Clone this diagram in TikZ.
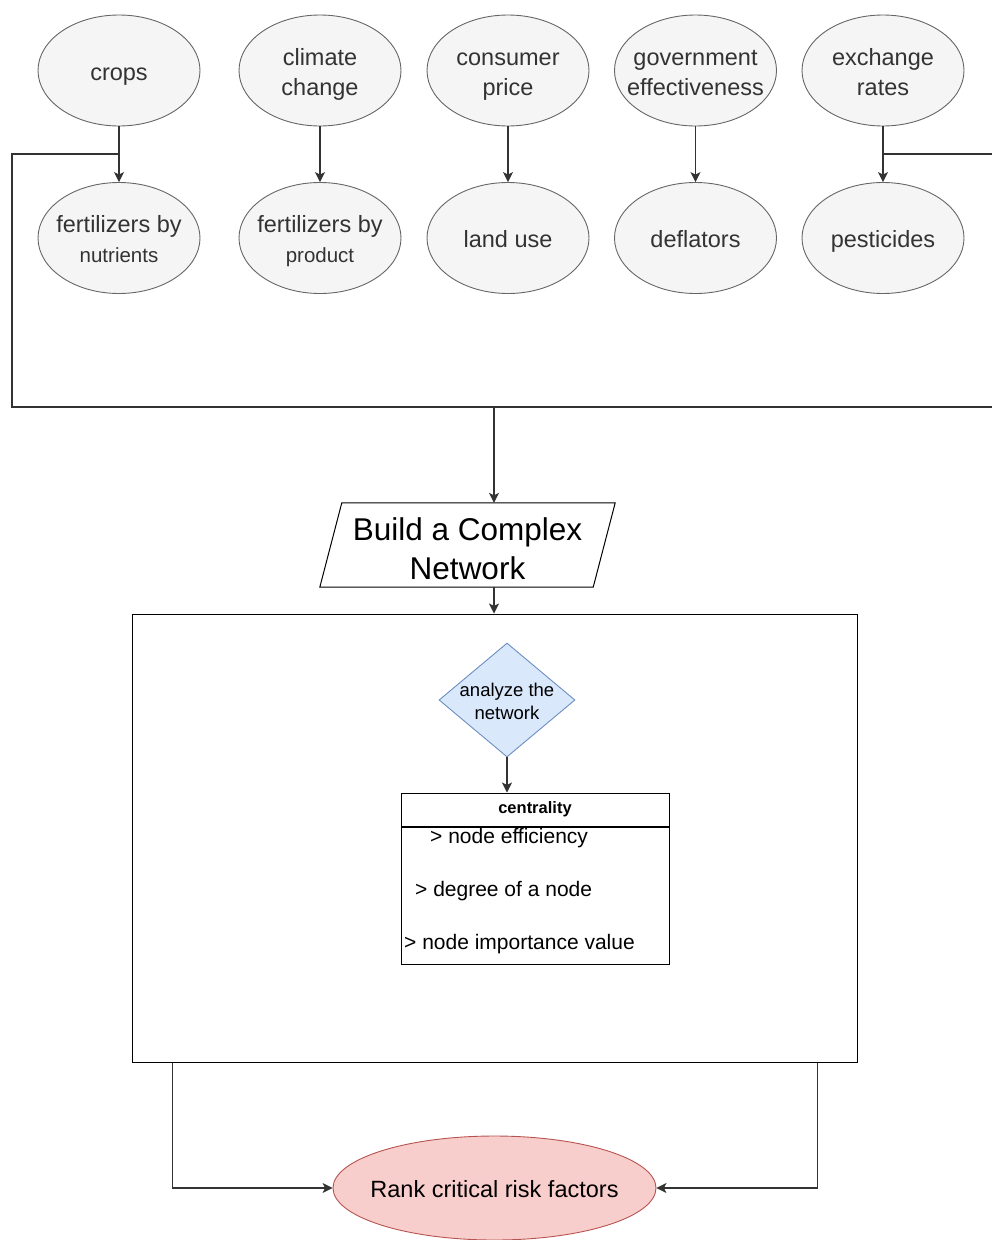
\documentclass[tikz,border=0pt]{standalone}
\usepackage{fontspec}
\setmainfont{Liberation Sans}
\usepackage{xcolor}
\usepackage{tikz}
\usetikzlibrary{arrows.meta,positioning,shapes.geometric}
\definecolor{factfill}{HTML}{F5F5F5}
\definecolor{factline}{HTML}{666666}
\definecolor{facttext}{HTML}{333333}
\definecolor{stepfill}{HTML}{DAE8FC}
\definecolor{stepline}{HTML}{6C8EBF}
\definecolor{rankfill}{HTML}{F8CECC}
\definecolor{rankline}{HTML}{B85450}
\tikzset{
  fact/.style={ellipse, draw=factline, line width=0.9pt, fill=factfill,
               text=facttext, inner sep=0pt,
               minimum width=162pt, minimum height=111pt,
               font=\fontsize{23.5}{30}\selectfont},
  wire/.style={line width=1.1pt, draw=black!80},
  flow/.style={-{Stealth[length=10pt,width=10pt,inset=2.5pt]}, line width=1.1pt,
               draw=black!80},
  item/.style={anchor=west, inner sep=0pt, font=\fontsize{21}{25}\selectfont},
}
% text that does not widen its shape
\newcommand{\lines}[1]{\makebox[0pt]{\raisebox{-0.42em}[0pt][0pt]{\begin{tabular}{@{}c@{}}#1\end{tabular}}}}
\newcommand{\sml}[1]{{\fontsize{20.5}{26}\selectfont #1}}

\begin{document}
\begin{tikzpicture}[x=1pt, y=-1pt]
\useasboundingbox (0,0) rectangle (991,1240);

% ---------------- the risk factors ---------------------------------------
\node[fact] (crops)    at (119,70.5)  {\lines{crops}};
\node[fact] (climate)  at (320,70.5)  {\lines{climate\\change}};
\node[fact] (price)    at (508,70.5)  {\lines{consumer\\price}};
\node[fact] (gov)      at (695.5,70.5){\lines{government\\effectiveness}};
\node[fact] (exch)     at (883,70.5)  {\lines{exchange\\rates}};
\node[fact] (fertnut)  at (119,238)   {\lines{fertilizers by\\\sml{nutrients}}};
\node[fact] (fertprod) at (320,238)   {\lines{fertilizers by\\\sml{product}}};
\node[fact] (land)     at (508,238)   {\lines{land use}};
\node[fact] (defl)     at (695.5,238) {\lines{deflators}};
\node[fact] (pest)     at (883,238)   {\lines{pesticides}};
\foreach \a/\b in {crops/fertnut, climate/fertprod, price/land, gov/defl, exch/pest}
  \draw[flow] (\a) -- (\b);

% ---------------- collecting bus ------------------------------------------
\coordinate (jl) at (119,154);
\coordinate (jr) at (883,154);
\coordinate (busw) at (12,407);
\coordinate (buse) at (1000,407);
\coordinate (bus) at (494,407);
\draw[wire] (jl) -| (busw) -- (buse);
\draw[wire] (jr) -| (buse);

% ---------------- network ------------------------------------------------
\node[inner sep=0pt, minimum width=273pt, minimum height=84pt,
      font=\fontsize{31.5}{39}\selectfont]
      (build) at (467.5,545) {\lines{Build a Complex\\Network}};
\draw[line width=1pt] ([xshift=-11pt]build.south west) -- ([xshift=11pt]build.north west)
  -- ([xshift=11pt]build.north east) -- ([xshift=-11pt]build.south east) -- cycle;
\draw[flow] (bus) -- (bus |- build.north);
\node[draw=black, line width=1pt, minimum width=725pt, minimum height=448pt,
      inner sep=0pt] (frame) at (494.5,838) {};
\draw[flow] (bus |- build.south) -- (bus |- frame.north);

\node[diamond, draw=stepline, fill=stepfill, line width=0.9pt, inner sep=0pt,
      minimum width=136pt, minimum height=114pt,
      font=\fontsize{18.5}{23}\selectfont] (analyze) at (507,700)
      {\lines{analyze the\\network}};
\node[draw=black, line width=1pt, minimum width=268pt, minimum height=33pt,
      inner sep=0pt, font=\bfseries\fontsize{16.5}{20}\selectfont]
      (centr) at (535,809.5) {centrality};
\node[draw=black, line width=1pt, minimum width=268pt, minimum height=137pt,
      inner sep=0pt, anchor=north] (measures) at (centr.south) {};
\draw[flow] (analyze.south) -- (analyze.south |- centr.north);
\node[item] (eff) at (430,838) {> node efficiency};
\node[item] (deg) at (415,891) {> degree of a node};
\node[item] (imp) at (404,944) {> node importance value};

% ---------------- ranking ------------------------------------------------
\node[ellipse, draw=rankline, fill=rankfill, line width=0.9pt, inner sep=0pt,
      minimum width=323pt, minimum height=104pt,
      font=\fontsize{23.5}{28}\selectfont] (rank) at (494.5,1188)
      {\lines{Rank critical risk factors}};
\draw[flow] ([xshift=41pt]frame.south west) |- (rank.west);
\draw[flow] ([xshift=-40pt]frame.south east) |- (rank.east);
\end{tikzpicture}
\end{document}
